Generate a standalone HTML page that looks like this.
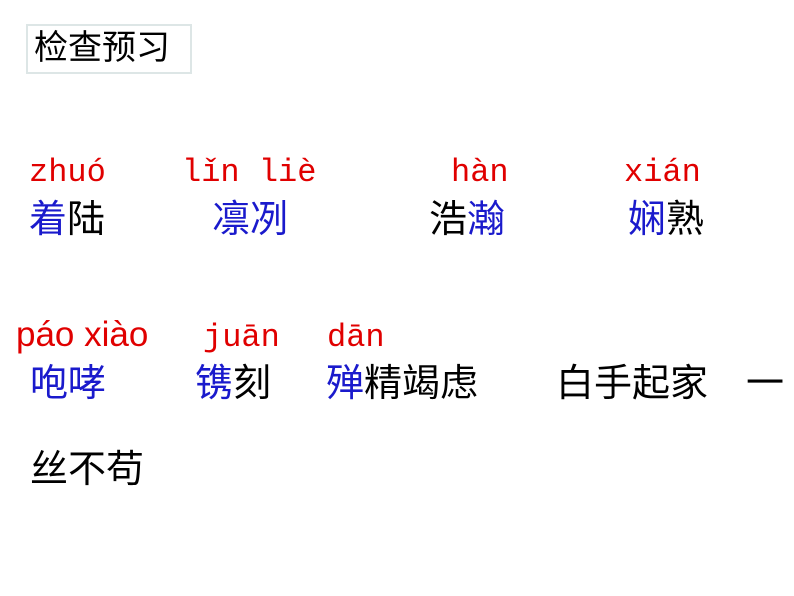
<!DOCTYPE html>
<html><head><meta charset="utf-8"><style>
body{margin:0;width:794px;height:596px;background:#fff;position:relative;overflow:hidden}
.a{position:absolute;white-space:nowrap;line-height:1}
.py{font-family:"Liberation Mono",monospace;font-size:32px;color:#e00000}
.cn{font-family:"Liberation Sans","Noto Sans CJK SC",sans-serif;font-size:38px;color:#000}
.b{color:#1a1acc}
.box{position:absolute;left:26px;top:24px;width:166px;height:50px;border:2px solid #dde6e6;box-sizing:border-box}
</style></head><body>
<div class="box"></div>
<div class="a cn" style="left:34px;top:31px;font-size:34px">检查预习</div>

<div class="a py" style="left:29px;top:157px">zhuó</div>
<div class="a py" style="left:182px;top:157px">lǐn liè</div>
<div class="a py" style="left:451px;top:157px">hàn</div>
<div class="a py" style="left:624px;top:157px">xián</div>

<div class="a cn" style="left:29px;top:201px"><span class="b">着</span>陆</div>
<div class="a cn" style="left:212px;top:201px"><span class="b">凛冽</span></div>
<div class="a cn" style="left:429px;top:201px">浩<span class="b">瀚</span></div>
<div class="a cn" style="left:628px;top:201px"><span class="b">娴</span>熟</div>

<div class="a" style="left:16px;top:317px;font-family:'Liberation Sans',sans-serif;font-size:35px;color:#e00000">páo xiào</div>
<div class="a py" style="left:203px;top:322px">juān</div>
<div class="a py" style="left:327px;top:322px">dān</div>

<div class="a cn" style="left:30px;top:365px"><span class="b">咆哮</span></div>
<div class="a cn" style="left:195px;top:365px"><span class="b">镌</span>刻</div>
<div class="a cn" style="left:326px;top:365px"><span class="b">殚</span>精竭虑</div>
<div class="a cn" style="left:556px;top:365px">白手起家</div>
<div class="a cn" style="left:746px;top:365px">一</div>
<div class="a cn" style="left:30px;top:451px">丝不苟</div>
</body></html>
